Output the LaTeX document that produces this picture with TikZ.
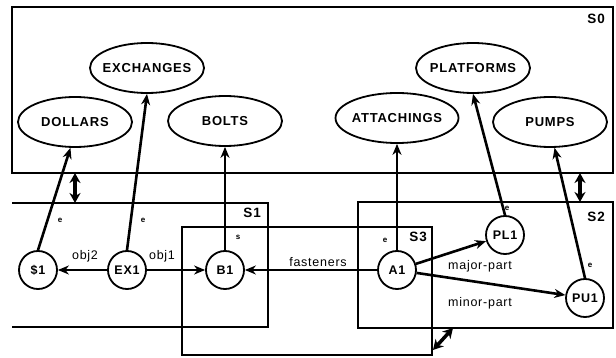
\documentclass[tikz,border=0pt]{standalone}
\usepackage{fontspec}
\setmainfont{Liberation Sans}
\newfontfamily\plotfont[LetterSpace=6]{Liberation Sans}
\usetikzlibrary{shapes.geometric,arrows.meta}

\begin{document}
\begin{tikzpicture}[x=1pt, y=-1pt,
  % Partition boxes and their names
  spacebox/.style={draw, line width=2pt},
  spacename/.style={anchor=north east, inner sep=0pt, font=\plotfont\fontsize{13.5}{15}\selectfont\bfseries},
  % Concepts (ellipses) and instances (circles)
  concept/.style={ellipse, draw, line width=1.8pt, minimum width=114pt, minimum height=50pt, inner xsep=-22pt, font=\plotfont\fontsize{13}{15}\selectfont\bfseries},
  instance/.style={circle, draw, line width=1.8pt, minimum size=38pt, inner sep=0pt, fill=white, font=\plotfont\fontsize{12.5}{14}\selectfont\bfseries},
  % Arrow styles
  link/.style={line width=2.6pt, -{Stealth[length=11pt, width=9pt]}},
  spacelink/.style={line width=3.5pt, {Stealth[length=10pt, width=11pt]}-{Stealth[length=10pt, width=11pt]}},
  % Text labels
  edgelabel/.style={inner sep=1pt, font=\plotfont\fontsize{12.5}{14}\selectfont},
  tag/.style={inner sep=0pt, font=\plotfont\fontsize{8}{9}\selectfont\bfseries}
]
\useasboundingbox (0,0) rectangle (616,358);

% Layer 1: partition boxes
\draw[spacebox] (12,7) rectangle (613,173);
\draw[spacebox] (12,203) -- (268,203) -- (268,327) -- (12,327);
\draw[spacebox] (182,227) rectangle (432,355);
\draw[spacebox] (358,202) rectangle (613,328);

\node[spacename] (nS0) at (605,14) {S0};
\node[spacename] (nS1) at (261,208) {S1};
\node[spacename] (nS3) at (427,232) {S3};
\node[spacename] (nS2) at (605,212) {S2};

% Layer 2: concepts in S0
\node[concept] (exchanges) at (147,68) {EXCHANGES};
\node[concept] (dollars) at (75,122) {DOLLARS};
\node[concept] (bolts) at (225,121) {BOLTS};
\node[concept, minimum width=123pt] (attachings) at (397,118) {ATTACHINGS};
\node[concept] (platforms) at (473,68) {PLATFORMS};
\node[concept] (pumps) at (550,122) {PUMPS};

% Layer 3: instances
\node[instance] (d1) at (38,270) {\$1};
\node[instance] (ex1) at (127,270) {EX1};
\node[instance] (b1) at (225,270) {B1};
\node[instance] (a1) at (397,270) {A1};
\node[instance] (pl1) at (505,235) {PL1};
\node[instance] (pu1) at (585,298) {PU1};

% Layer 4: instance-of arrows
\draw[link] (d1.north) -- (dollars.-100);
\draw[link] (ex1.north) -- (exchanges.south);
\draw[link] (b1.north) -- (bolts.south);
\draw[link] (a1.north) -- (attachings.south);
\draw[link] (pl1.north) -- (platforms.south);
\draw[link] (pu1.north) -- (pumps.-80);

\node[tag] (te1) at (60,220) {e};
\node[tag] (te2) at (143,220) {e};
\node[tag] (ts1) at (238,237) {s};
\node[tag] (te3) at (385,240) {e};
\node[tag] (te4) at (507,208) {e};
\node[tag] (te5) at (590,265) {e};

% Layer 5: case arrows between instances
\draw[link] (ex1) -- (d1);
\draw[link] (ex1) -- (b1);
\draw[link] (a1) -- (b1);
\draw[link] (a1) -- (pl1);
\draw[link] (a1) -- (pu1);

\node[edgelabel] (lobj2) at (85,256) {obj2};
\node[edgelabel] (lobj1) at (162,256) {obj1};
\node[edgelabel] (lfast) at (318,262) {fasteners};
\node[edgelabel] (lmajor) at (480,266) {major-part};
\node[edgelabel] (lminor) at (480,303) {minor-part};

% Layer 6: arrows between partitions
\coordinate (s0bl) at (75,173);
\coordinate (s1top) at (75,203);
\coordinate (s0br) at (580,173);
\coordinate (s2top) at (580,202);
\coordinate (s3right) at (433,350);
\coordinate (s2bot) at (453,328);
\draw[spacelink] (s1top) -- (s0bl);
\draw[spacelink] (s2top) -- (s0br);
\draw[spacelink] (s3right) -- (s2bot);

\end{tikzpicture}
\end{document}
